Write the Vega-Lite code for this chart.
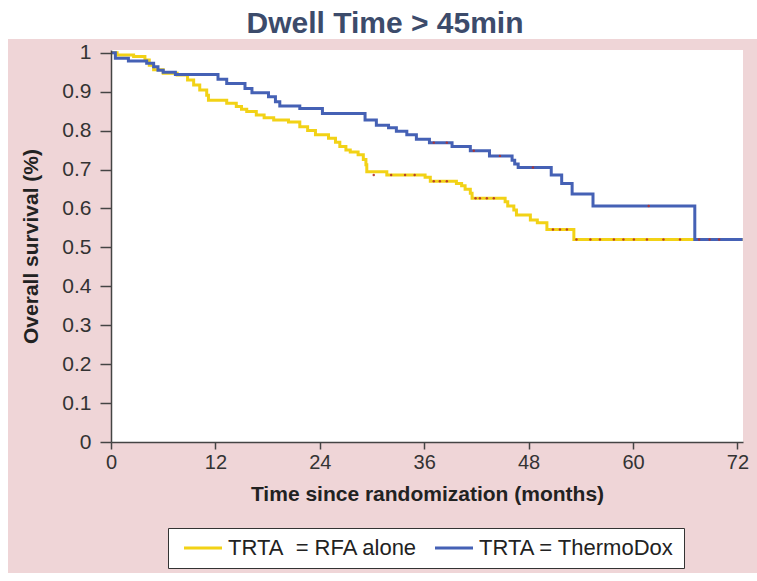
{
  "$schema": "https://vega.github.io/schema/vega-lite/v6.json",
  "autosize": {"type": "none"},
  "padding": {"left": 111, "top": 50, "right": 14, "bottom": 139},
  "width": 632,
  "height": 392,
  "background": "white",
  "title": {
    "text": "Dwell Time > 45min",
    "anchor": "middle",
    "frame": "group",
    "dx": -42,
    "offset": 0,
    "font": "Liberation Sans",
    "fontSize": 30,
    "fontWeight": "bold",
    "color": "#3c4b6b"
  },
  "config": {
    "view": {"stroke": null},
    "axis": {
      "grid": false,
      "labelFont": "Liberation Sans",
      "labelColor": "#333333",
      "titleFont": "Liberation Sans",
      "titleColor": "#222222",
      "titleFontWeight": "bold",
      "titleFontSize": 21,
      "domainColor": "#444444",
      "domainWidth": 1.5,
      "tickColor": "#444444",
      "tickWidth": 1.5,
      "labelFlush": false,
      "labelOverlap": false
    },
    "legend": {
      "orient": "none",
      "legendX": 57,
      "legendY": 478,
      "direction": "horizontal",
      "fillColor": "white",
      "strokeColor": "#333333",
      "padding": 9,
      "symbolType": "M-2,0H2",
      "symbolSize": 361,
      "symbolOffset": 15,
      "symbolStrokeWidth": 3,
      "labelFont": "Liberation Sans",
      "labelFontSize": 22,
      "labelColor": "#222222",
      "labelOffset": 14,
      "labelLimit": 400,
      "columnPadding": 10,
      "title": null
    }
  },
  "datasets": {
    "km": [
      {"group": "TRTA  = RFA alone", "t": 0, "s": 1.0},
      {"group": "TRTA  = RFA alone", "t": 0.7, "s": 0.994},
      {"group": "TRTA  = RFA alone", "t": 2.6, "s": 0.990},
      {"group": "TRTA  = RFA alone", "t": 3.9, "s": 0.981},
      {"group": "TRTA  = RFA alone", "t": 4.4, "s": 0.968},
      {"group": "TRTA  = RFA alone", "t": 4.9, "s": 0.956},
      {"group": "TRTA  = RFA alone", "t": 6.0, "s": 0.947},
      {"group": "TRTA  = RFA alone", "t": 7.6, "s": 0.943},
      {"group": "TRTA  = RFA alone", "t": 8.8, "s": 0.930},
      {"group": "TRTA  = RFA alone", "t": 9.5, "s": 0.917},
      {"group": "TRTA  = RFA alone", "t": 10.2, "s": 0.904},
      {"group": "TRTA  = RFA alone", "t": 11.0, "s": 0.891},
      {"group": "TRTA  = RFA alone", "t": 11.2, "s": 0.878},
      {"group": "TRTA  = RFA alone", "t": 13.3, "s": 0.870},
      {"group": "TRTA  = RFA alone", "t": 14.4, "s": 0.862},
      {"group": "TRTA  = RFA alone", "t": 15.0, "s": 0.855},
      {"group": "TRTA  = RFA alone", "t": 15.6, "s": 0.849},
      {"group": "TRTA  = RFA alone", "t": 16.7, "s": 0.840},
      {"group": "TRTA  = RFA alone", "t": 17.6, "s": 0.833},
      {"group": "TRTA  = RFA alone", "t": 18.7, "s": 0.827},
      {"group": "TRTA  = RFA alone", "t": 20.4, "s": 0.822},
      {"group": "TRTA  = RFA alone", "t": 21.7, "s": 0.810},
      {"group": "TRTA  = RFA alone", "t": 22.6, "s": 0.800},
      {"group": "TRTA  = RFA alone", "t": 23.5, "s": 0.789},
      {"group": "TRTA  = RFA alone", "t": 25.0, "s": 0.780},
      {"group": "TRTA  = RFA alone", "t": 25.8, "s": 0.770},
      {"group": "TRTA  = RFA alone", "t": 26.3, "s": 0.759},
      {"group": "TRTA  = RFA alone", "t": 27.0, "s": 0.750},
      {"group": "TRTA  = RFA alone", "t": 27.5, "s": 0.745},
      {"group": "TRTA  = RFA alone", "t": 28.4, "s": 0.738},
      {"group": "TRTA  = RFA alone", "t": 29.0, "s": 0.726},
      {"group": "TRTA  = RFA alone", "t": 29.3, "s": 0.712},
      {"group": "TRTA  = RFA alone", "t": 29.4, "s": 0.694},
      {"group": "TRTA  = RFA alone", "t": 31.7, "s": 0.686},
      {"group": "TRTA  = RFA alone", "t": 36.1, "s": 0.680},
      {"group": "TRTA  = RFA alone", "t": 36.7, "s": 0.670},
      {"group": "TRTA  = RFA alone", "t": 39.7, "s": 0.664},
      {"group": "TRTA  = RFA alone", "t": 40.3, "s": 0.658},
      {"group": "TRTA  = RFA alone", "t": 40.7, "s": 0.649},
      {"group": "TRTA  = RFA alone", "t": 41.3, "s": 0.639},
      {"group": "TRTA  = RFA alone", "t": 41.5, "s": 0.626},
      {"group": "TRTA  = RFA alone", "t": 45.3, "s": 0.617},
      {"group": "TRTA  = RFA alone", "t": 45.6, "s": 0.606},
      {"group": "TRTA  = RFA alone", "t": 46.3, "s": 0.596},
      {"group": "TRTA  = RFA alone", "t": 46.6, "s": 0.583},
      {"group": "TRTA  = RFA alone", "t": 48.2, "s": 0.570},
      {"group": "TRTA  = RFA alone", "t": 49.0, "s": 0.563},
      {"group": "TRTA  = RFA alone", "t": 50.1, "s": 0.546},
      {"group": "TRTA  = RFA alone", "t": 53.2, "s": 0.520},
      {"group": "TRTA  = RFA alone", "t": 72.6, "s": 0.520},
      {"group": "TRTA = ThermoDox", "t": 0, "s": 1.0},
      {"group": "TRTA = ThermoDox", "t": 0.5, "s": 0.986},
      {"group": "TRTA = ThermoDox", "t": 2.0, "s": 0.979},
      {"group": "TRTA = ThermoDox", "t": 4.1, "s": 0.973},
      {"group": "TRTA = ThermoDox", "t": 4.9, "s": 0.964},
      {"group": "TRTA = ThermoDox", "t": 5.4, "s": 0.955},
      {"group": "TRTA = ThermoDox", "t": 6.0, "s": 0.950},
      {"group": "TRTA = ThermoDox", "t": 7.4, "s": 0.944},
      {"group": "TRTA = ThermoDox", "t": 12.3, "s": 0.932},
      {"group": "TRTA = ThermoDox", "t": 13.3, "s": 0.921},
      {"group": "TRTA = ThermoDox", "t": 15.4, "s": 0.908},
      {"group": "TRTA = ThermoDox", "t": 16.2, "s": 0.897},
      {"group": "TRTA = ThermoDox", "t": 18.1, "s": 0.887},
      {"group": "TRTA = ThermoDox", "t": 18.9, "s": 0.874},
      {"group": "TRTA = ThermoDox", "t": 19.4, "s": 0.863},
      {"group": "TRTA = ThermoDox", "t": 21.7, "s": 0.857},
      {"group": "TRTA = ThermoDox", "t": 24.3, "s": 0.844},
      {"group": "TRTA = ThermoDox", "t": 29.2, "s": 0.827},
      {"group": "TRTA = ThermoDox", "t": 30.5, "s": 0.814},
      {"group": "TRTA = ThermoDox", "t": 31.9, "s": 0.807},
      {"group": "TRTA = ThermoDox", "t": 32.8, "s": 0.798},
      {"group": "TRTA = ThermoDox", "t": 34.0, "s": 0.789},
      {"group": "TRTA = ThermoDox", "t": 35.1, "s": 0.778},
      {"group": "TRTA = ThermoDox", "t": 36.6, "s": 0.769},
      {"group": "TRTA = ThermoDox", "t": 39.2, "s": 0.759},
      {"group": "TRTA = ThermoDox", "t": 41.3, "s": 0.748},
      {"group": "TRTA = ThermoDox", "t": 43.5, "s": 0.735},
      {"group": "TRTA = ThermoDox", "t": 46.1, "s": 0.724},
      {"group": "TRTA = ThermoDox", "t": 46.4, "s": 0.714},
      {"group": "TRTA = ThermoDox", "t": 46.8, "s": 0.705},
      {"group": "TRTA = ThermoDox", "t": 50.6, "s": 0.686},
      {"group": "TRTA = ThermoDox", "t": 51.8, "s": 0.664},
      {"group": "TRTA = ThermoDox", "t": 53.0, "s": 0.637},
      {"group": "TRTA = ThermoDox", "t": 55.4, "s": 0.606},
      {"group": "TRTA = ThermoDox", "t": 67.1, "s": 0.520},
      {"group": "TRTA = ThermoDox", "t": 72.6, "s": 0.520}
    ],
    "censor": [
      {"t": 30.2, "s": 0.686}, {"t": 32.2, "s": 0.686}, {"t": 33.8, "s": 0.686}, {"t": 34.9, "s": 0.686},
      {"t": 37.1, "s": 0.670}, {"t": 37.8, "s": 0.670}, {"t": 38.6, "s": 0.670},
      {"t": 41.9, "s": 0.626}, {"t": 42.4, "s": 0.626}, {"t": 43.2, "s": 0.626}, {"t": 44.0, "s": 0.626},
      {"t": 50.8, "s": 0.546}, {"t": 51.6, "s": 0.546}, {"t": 52.4, "s": 0.546},
      {"t": 53.5, "s": 0.520}, {"t": 55.1, "s": 0.520}, {"t": 56.2, "s": 0.520}, {"t": 57.8, "s": 0.520},
      {"t": 58.9, "s": 0.520}, {"t": 60.1, "s": 0.520}, {"t": 61.6, "s": 0.520}, {"t": 63.5, "s": 0.520},
      {"t": 65.4, "s": 0.520}, {"t": 67.6, "s": 0.520}, {"t": 68.8, "s": 0.520}, {"t": 69.9, "s": 0.520},
      {"t": 61.8, "s": 0.606}, {"t": 48.5, "s": 0.705}, {"t": 44.7, "s": 0.735}, {"t": 41.7, "s": 0.748},
      {"t": 37.1, "s": 0.769}, {"t": 38.6, "s": 0.769}
    ]
  },
  "layer": [
    {
      "data": {"values": [{"panel": "background"}]},
      "mark": {"type": "rect", "color": "#efd5d7"},
      "encoding": {
        "x": {
          "datum": -11.84,
          "type": "quantitative",
          "scale": {"domain": [0, 72.64], "nice": false, "zero": false},
          "axis": {
            "title": "Time since randomization (months)",
            "values": [0, 12, 24, 36, 48, 60, 72],
            "labelFontSize": 20,
            "tickSize": 7,
            "labelPadding": 3,
            "titlePadding": 11,
            "zindex": 2
          }
        },
        "x2": {"datum": 74.3},
        "y": {
          "datum": 1.0352,
          "type": "quantitative",
          "scale": {"domain": [0, 1.007], "nice": false},
          "axis": {
            "title": "Overall survival (%)",
            "values": [0, 0.1, 0.2, 0.3, 0.4, 0.5, 0.6, 0.7, 0.8, 0.9, 1],
            "tickCount": 11,
            "labelExpr": "format(datum.value, '.1~f')",
            "labelOverlap": false,
            "labelSeparation": 0,
            "labelFontSize": 21,
            "tickSize": 11,
            "labelPadding": 9,
            "titlePadding": 20,
            "zindex": 2
          }
        },
        "y2": {"datum": -0.3365}
      }
    },
    {
      "data": {"values": [{"panel": "plot"}]},
      "mark": {"type": "rect", "color": "white"},
      "encoding": {
        "x": {"datum": 0, "type": "quantitative"},
        "x2": {"datum": 72.64},
        "y": {"datum": 1.007, "type": "quantitative"},
        "y2": {"datum": 0}
      }
    },
    {
      "data": {"name": "km"},
      "mark": {"type": "line", "interpolate": "step-after", "strokeWidth": 3},
      "encoding": {
        "x": {"field": "t", "type": "quantitative"},
        "y": {"field": "s", "type": "quantitative"},
        "color": {
          "field": "group",
          "type": "nominal",
          "scale": {"domain": ["TRTA  = RFA alone", "TRTA = ThermoDox"], "range": ["#f2d216", "#4561b5"]},
          "legend": {"title": null, "labelExpr": "replace(datum.label, '  ', '\u00a0 ')"}
        }
      }
    },
    {
      "data": {"name": "censor"},
      "mark": {"type": "point", "filled": true, "color": "#b5302a", "size": 6, "opacity": 0.9},
      "encoding": {
        "x": {"field": "t", "type": "quantitative"},
        "y": {"field": "s", "type": "quantitative"}
      }
    }
  ]
}
